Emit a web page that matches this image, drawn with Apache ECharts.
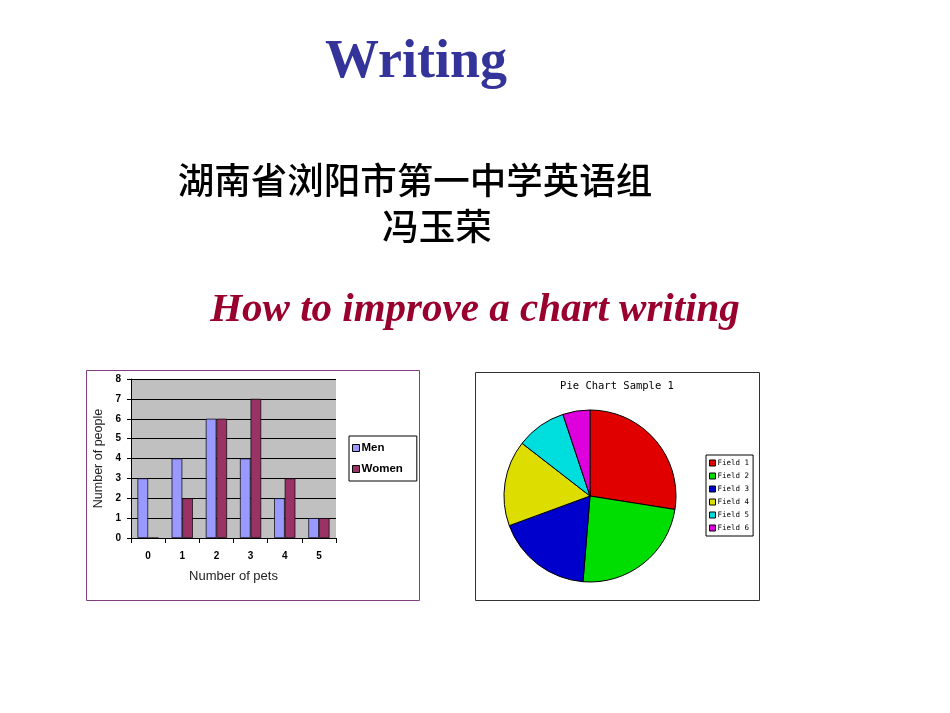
<!DOCTYPE html>
<html>
<head>
<meta charset="utf-8">
<script src="https://cdn.jsdelivr.net/npm/echarts@6/dist/echarts.min.js"></script>
<style>
html,body{margin:0;padding:0;background:#fff;}
#main{width:950px;height:713px;}
</style>
</head>
<body>
<div id="main"></div>
<script>
// ---- data ----
var petCategories = ['0', '1', '2', '3', '4', '5'];
var menValues = [3, 4, 6, 4, 2, 1];
var womenValues = [0, 2, 6, 7, 3, 1];
var yTicks = [0, 1, 2, 3, 4, 5, 6, 7, 8];
var pieNames = ['Field 1', 'Field 2', 'Field 3', 'Field 4', 'Field 5', 'Field 6'];
var pieValues = [27.5, 23.8, 18.1, 16.1, 9.4, 5.1];
var pieColors = ['#e00000', '#00dd00', '#0000cc', '#dddd00', '#00dddd', '#dd00dd'];

var sans = '"Liberation Sans", Arial, sans-serif';
var mono = '"DejaVu Sans Mono", "Liberation Mono", monospace';

var chart = echarts.init(document.getElementById('main'), null, {renderer: 'canvas'});

var option = {
  backgroundColor: '#ffffff',
  animation: false,
  graphic: [
    {type: 'text', x: 416, y: 63, style: {text: 'Writing', fill: '#333399',
      font: 'bold 54px "Liberation Serif", "Times New Roman", serif', textAlign: 'center', textVerticalAlign: 'middle'}},
    {type: 'text', x: 415, y: 180, style: {text: '湖南省浏阳市第一中学英语组', fill: '#000',
      font: '500 36.5px "Noto Sans CJK SC", sans-serif', textAlign: 'center', textVerticalAlign: 'middle'}},
    {type: 'text', x: 437, y: 226, style: {text: '冯玉荣', fill: '#000',
      font: '500 36.5px "Noto Sans CJK SC", sans-serif', textAlign: 'center', textVerticalAlign: 'middle'}},
    {type: 'text', x: 475, y: 310, style: {text: 'How to improve a chart writing', fill: '#99002e',
      font: 'italic bold 41px "Liberation Serif", "Times New Roman", serif', textAlign: 'center', textVerticalAlign: 'middle'}},
    {type: 'rect', shape: {x: 86.5, y: 370.5, width: 333, height: 230}, style: {fill: 'none', stroke: '#7f3f7f', lineWidth: 1}},
    {type: 'rect', shape: {x: 475.5, y: 372.5, width: 284, height: 228}, style: {fill: 'none', stroke: '#333333', lineWidth: 1}},
    {type: 'text', x: 617, y: 386, style: {text: 'Pie Chart Sample 1', fill: '#000',
      font: '10.5px ' + mono, textAlign: 'center', textVerticalAlign: 'middle'}}
  ],
  legend: [
    {
      data: ['Men', 'Women'],
      orient: 'vertical',
      left: 349, top: 436,
      padding: [5, 14, 5, 3],
      itemWidth: 7, itemHeight: 7, itemGap: 7,
      icon: 'rect',
      borderColor: '#000', borderWidth: 1,
      backgroundColor: '#fff',
      textStyle: {fontFamily: sans, fontWeight: 'bold', fontSize: 11.5, color: '#000', lineHeight: 14, padding: [0, 0, 0, -3]},
      itemStyle: {borderColor: '#000', borderWidth: 1}
    },
    {
      data: pieNames,
      orient: 'vertical',
      left: 706, top: 455,
      padding: [3.5, 4, 3.5, 3],
      itemWidth: 6, itemHeight: 6, itemGap: 4,
      icon: 'rect',
      borderColor: '#000', borderWidth: 1,
      backgroundColor: '#fff',
      textStyle: {fontFamily: mono, fontSize: 7.5, color: '#000', lineHeight: 9, padding: [0, 0, 0, -3]},
      itemStyle: {borderColor: '#000', borderWidth: 1}
    }
  ],
  grid: {
    left: 131, top: 379, width: 205, height: 159,
    show: true, backgroundColor: '#c0c0c0', borderWidth: 0
  },
  xAxis: {
    type: 'category',
    data: petCategories,
    name: 'Number of pets',
    nameLocation: 'middle',
    nameGap: 32,
    nameTextStyle: {fontFamily: sans, fontSize: 13, color: '#222'},
    axisLine: {lineStyle: {color: '#000', width: 1}},
    axisTick: {show: true, length: 5, lineStyle: {color: '#000'}},
    axisLabel: {fontFamily: sans, fontWeight: 'bold', fontSize: 10, color: '#000', margin: 13},
    splitLine: {show: false}
  },
  yAxis: {
    type: 'value',
    min: yTicks[0], max: yTicks[yTicks.length - 1], interval: 1,
    name: 'Number of people',
    nameLocation: 'middle',
    nameGap: 26,
    nameTextStyle: {fontFamily: sans, fontSize: 12.5, color: '#222'},
    axisLine: {show: true, lineStyle: {color: '#000', width: 1}},
    axisTick: {show: true, length: 4, lineStyle: {color: '#000'}},
    axisLabel: {fontFamily: sans, fontWeight: 'bold', fontSize: 10, color: '#000', margin: 10},
    splitLine: {show: true, lineStyle: {color: '#000', width: 1}}
  },
  series: [
    {
      name: 'Men', type: 'bar', data: menValues,
      barGap: '0%', barCategoryGap: '38%',
      itemStyle: {color: '#9999ff', borderColor: '#000', borderWidth: 0.7}
    },
    {
      name: 'Women', type: 'bar', data: womenValues,
      barGap: '0%', barCategoryGap: '38%',
      itemStyle: {color: '#993366', borderColor: '#000', borderWidth: 0.7}
    },
    {
      name: 'Pie', type: 'pie',
      center: [590, 496], radius: 86,
      startAngle: 90, clockwise: true,
      label: {show: false}, labelLine: {show: false},
      emphasis: {disabled: true},
      data: pieNames.map(function (n, i) {
        return {name: n, value: pieValues[i], itemStyle: {color: pieColors[i]}};
      }),
      itemStyle: {borderColor: '#000', borderWidth: 1}
    }
  ]
};
chart.setOption(option);
</script>
</body>
</html>
